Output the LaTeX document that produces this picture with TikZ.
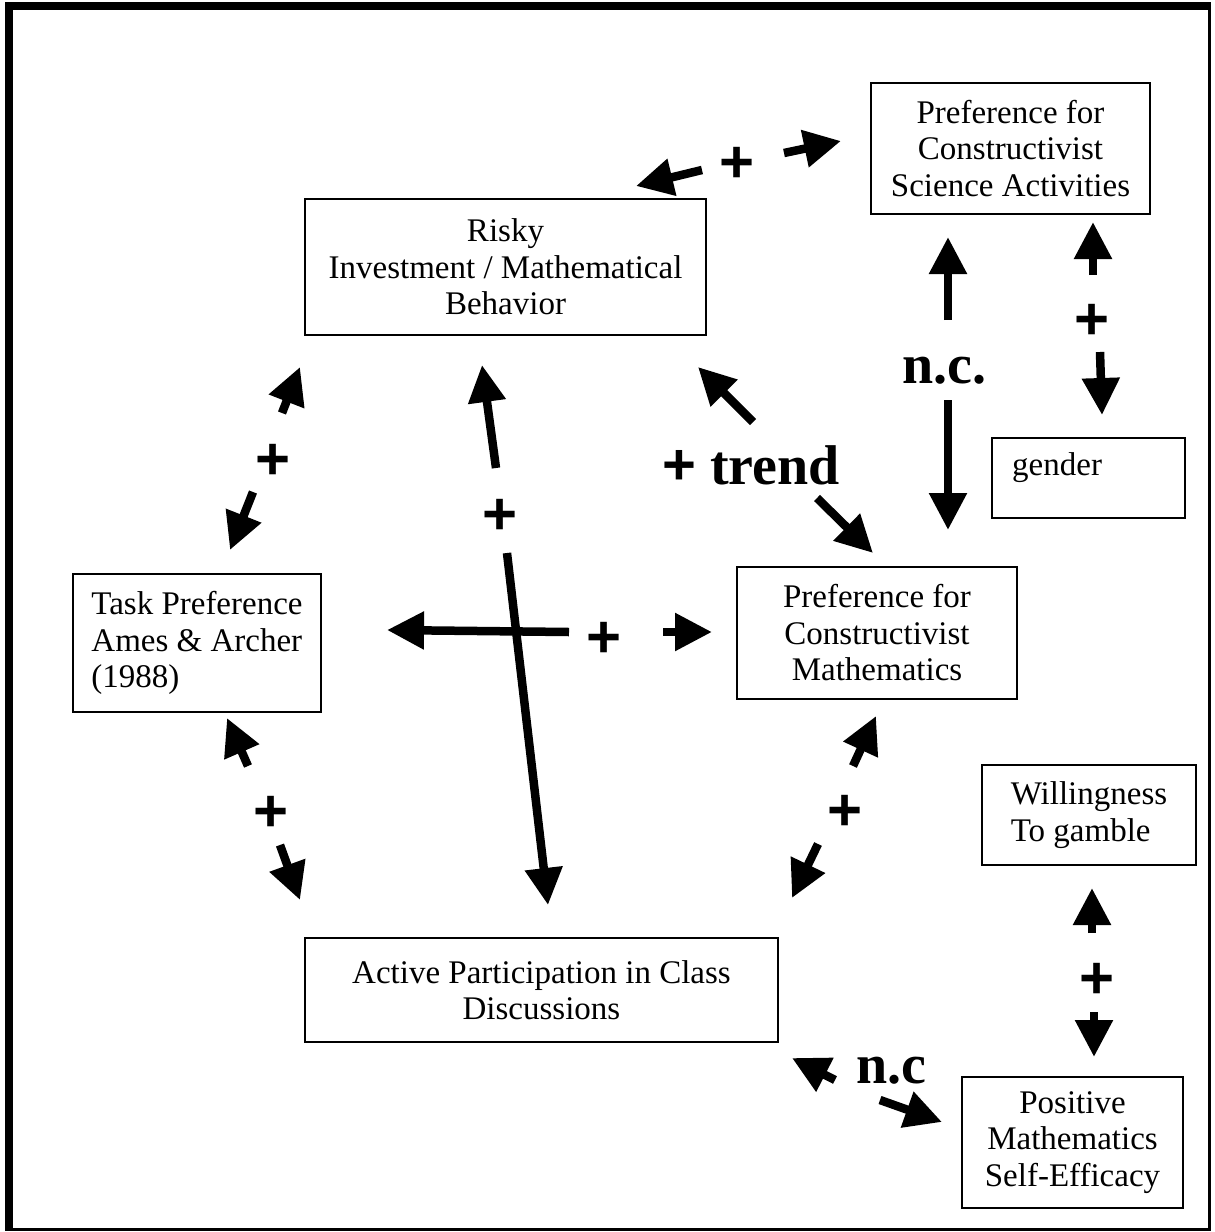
\documentclass[tikz,border=0pt]{standalone}
\usepackage{fontspec}
\setmainfont{Liberation Serif}
\newfontfamily\plusfont{Liberation Sans}
\usetikzlibrary{arrows.meta}
\begin{document}
\begin{tikzpicture}[x=1pt,y=-1pt,
  box/.style={draw, line width=2pt, inner sep=0pt, align=center, font=\fontsize{33}{36.5}\selectfont},
  txt/.style={inner sep=0pt, font=\fontsize{33}{36.5}\selectfont},
  arr/.style={line width=8.5pt, -{Triangle[length=37pt,width=36pt]}},
  plus/.style={inner sep=0pt, font=\plusfont\bfseries\fontsize{60}{60}\selectfont},
  big/.style={inner sep=0pt, anchor=base, font=\bfseries\fontsize{56}{56}\selectfont}]
\useasboundingbox (0,0) rectangle (1215,1232);
% frame
\fill (5,2) rectangle (13,1229);
\fill (5,2) rectangle (1211,10);
\draw[line width=3pt] (1209.5,2) -- (1209.5,1229.5) -- (5,1229.5);
% boxes
\node[box, minimum width=279pt, minimum height=131pt] (sci) at (1010.5,148.5) {Preference for\\Constructivist\\Science Activities};
\node[box, minimum width=401pt, minimum height=136pt] (risky) at (505.5,267) {Risky\\Investment / Mathematical\\Behavior};
\node[box, minimum width=193pt, minimum height=80pt] (gen) at (1088.5,478) {};
\node[txt, anchor=west] (gentxt) at ([xshift=21pt,yshift=10pt]gen.west) {gender};
\node[box, align=left, minimum width=248pt, minimum height=138pt] (task) at (197,643) {Task Preference\\Ames \& Archer\\(1988)};
\node[box, minimum width=280pt, minimum height=132pt] (pm) at (877,633) {Preference for\\Constructivist\\Mathematics};
\node[box, align=left, minimum width=214pt, minimum height=100pt] (will) at (1089,815) {Willingness\\To gamble};
\node[box, minimum width=473pt, minimum height=104pt] (act) at (541.5,990) {Active Participation in Class\\Discussions};
\node[box, minimum width=221pt, minimum height=131pt] (self) at (1072.5,1142.5) {Positive\\Mathematics\\Self-Efficacy};
% arrow end points
\coordinate (a1s) at (702,170); \coordinate (a1e) at (636,186);
\coordinate (a2s) at (784,153); \coordinate (a2e) at (841,141);
\coordinate (b1s) at (948,320); \coordinate (b1e) at (948,237);
\coordinate (b2s) at (948,400); \coordinate (b2e) at (948,530);
\coordinate (c1s) at (1093,275); \coordinate (c1e) at (1093,222);
\coordinate (c2s) at (1100,352); \coordinate (c2e) at (1102,415);
\coordinate (d1s) at (753,422); \coordinate (d1e) at (698,367);
\coordinate (d2s) at (817,498); \coordinate (d2e) at (873,553);
\coordinate (e1s) at (282,413); \coordinate (e1e) at (300,367);
\coordinate (e2s) at (253,492); \coordinate (e2e) at (230,550);
\coordinate (f1s) at (569,632); \coordinate (f1e) at (387,630);
\coordinate (f2s) at (663,632); \coordinate (f2e) at (712,632);
\coordinate (g1s) at (496,468); \coordinate (g1e) at (482,365);
\coordinate (g2s) at (507,553); \coordinate (g2e) at (548,905);
\coordinate (h1s) at (248,766); \coordinate (h1e) at (227,718);
\coordinate (h2s) at (280,845); \coordinate (h2e) at (300,900);
\coordinate (i1s) at (853,766); \coordinate (i1e) at (876,716);
\coordinate (i2s) at (818,844); \coordinate (i2e) at (792,898);
\coordinate (j1s) at (1092,933); \coordinate (j1e) at (1092,888);
\coordinate (j2s) at (1094,1012); \coordinate (j2e) at (1094,1057);
\coordinate (k1s) at (835,1080); \coordinate (k1e) at (792,1058);
\coordinate (k2s) at (880,1100); \coordinate (k2e) at (942,1122);
% arrows
\foreach \p in {a1,a2,b1,b2,c1,c2,d1,d2,e1,e2,f1,f2,g1,g2,h1,h2,i1,i2,j1,j2,k1,k2}
  \draw[arr] (\p s) -- (\p e);
% labels
\node[plus] (pa) at (737,165) {+};
\node[plus] (pc) at (1092,322) {+};
\node[plus] (pe) at (273,462) {+};
\node[plus] (pf) at (604,640) {+};
\node[plus] (pg) at (500,517) {+};
\node[plus] (ph) at (271,814) {+};
\node[plus] (pi) at (845,813) {+};
\node[plus] (pj) at (1097,981) {+};
\node[big] (lb) at (944,383) {n.c.};
\node[big] (ld) at (751,484) {{\plusfont\bfseries\fontsize{58}{58}\selectfont +} trend};
\node[big] (lk) at (891,1083) {n.c};
\end{tikzpicture}
\end{document}
